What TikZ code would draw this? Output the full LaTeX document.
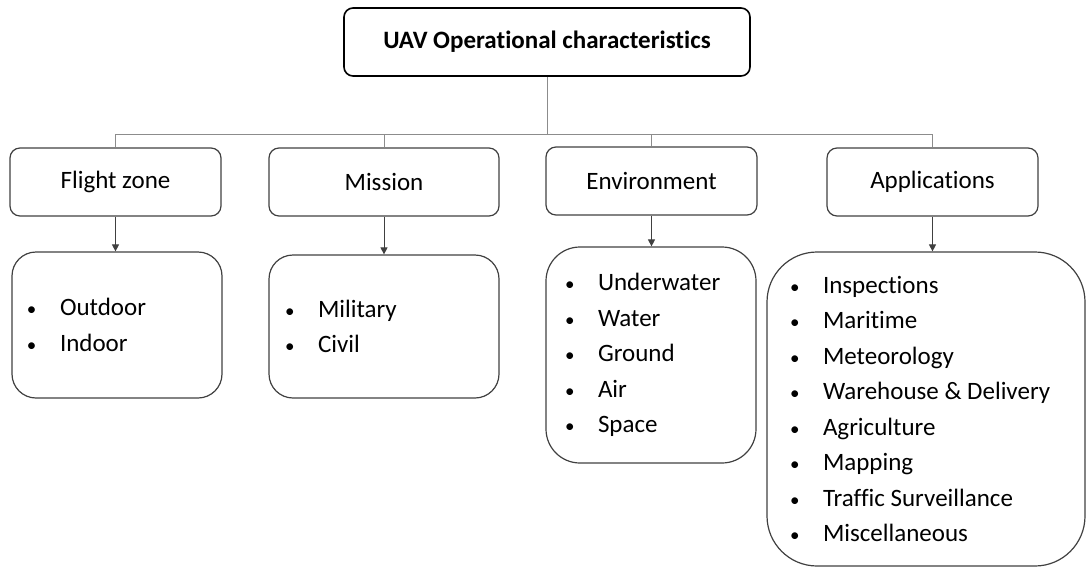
\documentclass[tikz,border=0pt]{standalone}
\usepackage{fontspec}
\setmainfont{Carlito}[Ligatures=NoCommon]
\usetikzlibrary{arrows.meta, positioning}
\definecolor{boxline}{HTML}{404040}
\definecolor{linkline}{HTML}{8C8C8C}
\newcommand{\itm}[1]{\makebox[34pt][l]{\hspace{1pt}{\fontsize{19}{19}\selectfont\textbullet}}#1}

\begin{document}
\begin{tikzpicture}[x=1pt, y=-1pt,
  top/.style={draw=black, line width=1.6pt, rounded corners=9pt, minimum width=406pt, minimum height=68pt, font=\fontsize{25}{30}\selectfont\bfseries},
  cat/.style={draw=boxline, line width=1.2pt, rounded corners=10pt, minimum width=211pt, minimum height=68pt, font=\fontsize{25}{30}\selectfont},
  items/.style={draw=boxline, line width=1.2pt, align=flush left, inner ysep=0pt, font=\fontsize{25}{35.5}\selectfont},
  link/.style={draw=linkline, line width=0.9pt},
  arr/.style={-{Triangle[length=7pt, width=7pt]}, draw=black!75, line width=0.9pt}
]
\useasboundingbox (0, 0) rectangle (1089, 568);

\node[top] (title) at (547, 42) {UAV Operational characteristics};

\node[cat] (flight) at (115.5, 182) {Flight zone};
\node[cat, minimum width=230pt] (mission) at (384, 182) {Mission};
\node[cat] (env) at (651.5, 181) {Environment};
\node[cat] (apps) at (932.5, 182) {Applications};

\node[items, rounded corners=24pt, minimum height=146pt, inner xsep=14pt, text width=182pt] (flightl) at (117, 325) {\itm{Outdoor}\\\itm{Indoor}};
\node[items, rounded corners=24pt, minimum height=143pt, inner xsep=15pt, text width=200pt] (missionl) at (384, 326.5) {\itm{Military}\\\itm{Civil}};
\node[items, rounded corners=34pt, minimum height=216pt, inner xsep=18pt, text width=174pt] (envl) at (651, 355) {\itm{Underwater}\\\itm{Water}\\\itm{Ground}\\\itm{Air}\\\itm{Space}};
\node[items, rounded corners=50pt, minimum height=314pt, inner xsep=22pt, text width=274pt] (appsl) at (926, 409) {\itm{Inspections}\\\itm{Maritime}\\\itm{Meteorology}\\\itm{Warehouse \& Delivery}\\\itm{Agriculture}\\\itm{Mapping}\\\itm{Traffic Surveillance}\\\itm{Miscellaneous}\\[-8pt]};

% tree lines
\coordinate (bar) at (547, 134);
\draw[link] (title.south) -- (bar);
\foreach \n in {flight, mission, env, apps}
  \draw[link] (bar) -| (\n.north);

\foreach \n in {flight, mission, env, apps}
  \draw[arr] (\n.south) -- (\n.south |- \n l.north);

\end{tikzpicture}
\end{document}
